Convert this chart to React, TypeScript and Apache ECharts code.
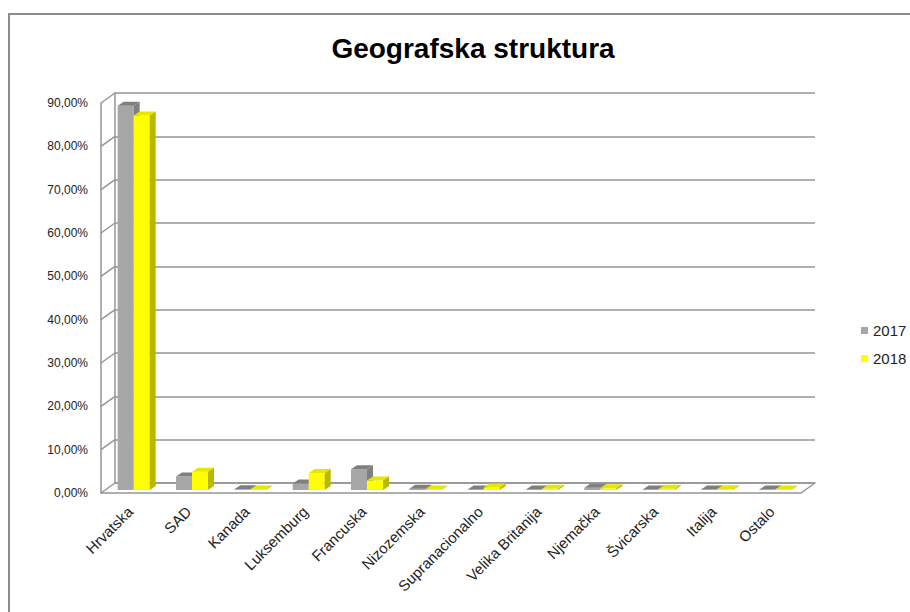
import React, { useEffect, useRef } from "react";
import * as echarts from "echarts";

const categories = [
  "Hrvatska",
  "SAD",
  "Kanada",
  "Luksemburg",
  "Francuska",
  "Nizozemska",
  "Supranacionalno",
  "Velika Britanija",
  "Njemačka",
  "Švicarska",
  "Italija",
  "Ostalo",
];
const values2017 = [88.7, 3.1, 0.15, 1.5, 4.8, 0.3, 0.1, 0.1, 0.5, 0.1, 0.1, 0.1];
const values2018 = [86.4, 4.2, 0.1, 3.9, 2.2, 0.1, 0.6, 0.3, 0.4, 0.3, 0.2, 0.1];
const seriesNames = ["2017", "2018"];
const yTicks = [0, 10, 20, 30, 40, 50, 60, 70, 80, 90];

const FONT = "'Liberation Sans', Arial, sans-serif";
const DEPTH_X = 14;
const DEPTH_Y = -10;
const BAR_W = 16;
const BAR_DX = 6;
const BAR_DY = -4;
const BAR_SHIFT_Y = -3;
const LINE = "#959595";

const palettes = [
  { front: "#a6a6a6", top: "#7f7f7f", side: "#808080" },
  { front: "#ffff00", top: "#e6e600", side: "#b8b800" },
];

function makeBarRender(seriesIdx: number) {
  const pal = palettes[seriesIdx];
  const off = seriesIdx === 0 ? -12.5 : 3.5;
  return (params: any, api: any) => {
    const cat = api.value(0);
    const v = api.value(1);
    const pTop = api.coord([cat, v]);
    const pBase = api.coord([cat, 0]);
    const x0 = pTop[0] + off;
    const yT = pTop[1] + BAR_SHIFT_Y;
    const yB = pBase[1] + BAR_SHIFT_Y;
    const h = Math.max(yB - yT, 0.5);
    return {
      type: "group",
      children: [
        {
          type: "rect",
          shape: { x: x0, y: yB - h, width: BAR_W, height: h },
          style: { fill: pal.front },
        },
        {
          type: "polygon",
          shape: {
            points: [
              [x0, yB - h],
              [x0 + BAR_DX, yB - h + BAR_DY],
              [x0 + BAR_W + BAR_DX, yB - h + BAR_DY],
              [x0 + BAR_W, yB - h],
            ],
          },
          style: { fill: pal.top },
        },
        {
          type: "polygon",
          shape: {
            points: [
              [x0 + BAR_W, yB - h],
              [x0 + BAR_W + BAR_DX, yB - h + BAR_DY],
              [x0 + BAR_W + BAR_DX, yB + BAR_DY],
              [x0 + BAR_W, yB],
            ],
          },
          style: { fill: pal.side },
        },
      ],
    };
  };
}

const wallRender = (params: any, api: any) => {
  const v = api.value(0);
  const cs = params.coordSys;
  const y = api.coord([0, v])[1];
  const children: any[] = [
    {
      type: "line",
      shape: { x1: cs.x, y1: y, x2: cs.x + DEPTH_X, y2: y + DEPTH_Y },
      style: { stroke: LINE, lineWidth: 1.5 },
    },
  ];
  if (v === 0) {
    children.push({
      type: "line",
      shape: {
        x1: cs.x + cs.width,
        y1: y,
        x2: cs.x + cs.width + DEPTH_X,
        y2: y + DEPTH_Y,
      },
      style: { stroke: LINE, lineWidth: 1.5 },
    });
  }
  return { type: "group", children };
};

export default function App() {
  const ref = useRef<HTMLDivElement>(null);
  useEffect(() => {
    if (!ref.current) return;
    const chart = echarts.init(ref.current, undefined, { renderer: "svg" });
    const fmt = (v: number) => v.toFixed(2).replace(".", ",") + "%";
    chart.setOption({
      animation: false,
      backgroundColor: "#ffffff",
      textStyle: { fontFamily: FONT },
      title: {
        text: "Geografska struktura",
        left: 468,
        top: 29,
        textAlign: "center",
        textStyle: { fontFamily: FONT, fontSize: 28, fontWeight: "bold", color: "#000" },
      },
      legend: {
        data: seriesNames,
        orient: "vertical",
        left: 856,
        top: 318,
        itemWidth: 7,
        itemHeight: 7,
        itemGap: 13,
        icon: "rect",
        textStyle: { fontFamily: FONT, fontSize: 15, color: "#222" },
      },
      graphic: [
        {
          type: "rect",
          shape: { x: 9, y: 14, width: 1000, height: 700 },
          style: { fill: "none", stroke: "#8c8c8c", lineWidth: 2 },
          silent: true,
          z: -10,
        },
      ],
      grid: [
        { left: 101, top: 103, width: 700, height: 390 },
        { left: 101 + DEPTH_X, top: 103 + DEPTH_Y, width: 700, height: 390 },
      ],
      xAxis: [
        {
          type: "category",
          gridIndex: 0,
          data: categories,
          axisLine: { show: true, lineStyle: { color: LINE, width: 1.5 } },
          axisTick: { show: false },
          axisLabel: {
            interval: 0,
            rotate: 45,
            margin: 16,
            fontFamily: FONT,
            fontSize: 15,
            color: "#222",
          },
          z: 1,
        },
        {
          type: "category",
          gridIndex: 1,
          data: categories,
          axisLine: { show: true, lineStyle: { color: LINE, width: 1.5 } },
          axisTick: { show: false },
          axisLabel: { show: false },
        },
      ],
      yAxis: [
        {
          type: "value",
          gridIndex: 0,
          min: 0,
          max: 90,
          interval: 10,
          axisLine: { show: true, lineStyle: { color: LINE, width: 1.5 } },
          axisTick: { show: false },
          splitLine: { show: false },
          axisLabel: {
            formatter: fmt,
            margin: 13,
            fontFamily: FONT,
            fontSize: 12,
            color: "#222",
          },
        },
        {
          type: "value",
          gridIndex: 1,
          min: 0,
          max: 90,
          interval: 10,
          axisLine: { show: true, lineStyle: { color: LINE, width: 1.5 } },
          axisTick: { show: false },
          axisLabel: { show: false },
          splitLine: { show: true, lineStyle: { color: LINE, width: 1.5 } },
        },
      ],
      series: [
        {
          type: "custom",
          name: "walls",
          xAxisIndex: 0,
          yAxisIndex: 0,
          data: yTicks.map((t) => [t]),
          encode: { y: 0 },
          renderItem: wallRender,
          clip: false,
          silent: true,
          z: 1,
        },
        {
          type: "custom",
          name: seriesNames[0],
          xAxisIndex: 0,
          yAxisIndex: 0,
          itemStyle: { color: palettes[0].front },
          data: values2017.map((v, i) => [i, v]),
          encode: { x: 0, y: 1 },
          renderItem: makeBarRender(0),
          clip: false,
          z: 3,
        },
        {
          type: "custom",
          name: seriesNames[1],
          xAxisIndex: 0,
          yAxisIndex: 0,
          itemStyle: { color: palettes[1].front },
          data: values2018.map((v, i) => [i, v]),
          encode: { x: 0, y: 1 },
          renderItem: makeBarRender(1),
          clip: false,
          z: 4,
        },
      ],
    });
    return () => chart.dispose();
  }, []);
  return (
    <div
      ref={ref}
      style={{ position: "fixed", left: 0, top: 0, width: 910, height: 612 }}
    />
  );
}
